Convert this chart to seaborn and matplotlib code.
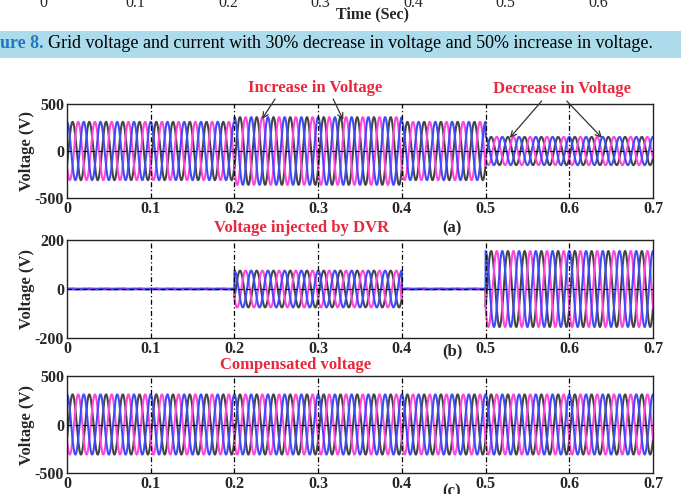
"""DVR simulation figure: grid, injected and compensated three-phase voltages."""

import matplotlib

matplotlib.use("Agg")
import matplotlib.pyplot as plt
import numpy as np
import pandas as pd
import seaborn as sns
from matplotlib.patches import Rectangle

# segment boundaries (s) and peak amplitude (V) in each segment
SEG_EDGES = [0.0, 0.2, 0.4, 0.5, 0.7]
GRID_AMP = [310, 360, 310, 150]
DVR_AMP = [2, 75, 2, 155]
LOAD_AMP = [310, 310, 310, 310]
FREQ_HZ = 50

PHASES = ["A", "B", "C"]
PHASE_SHIFT_DEG = [-120, 120, 0]
PHASE_COLORS = ["#444444", "#ff45da", "#3f4cf5"]

X_TICKS = [0, 0.1, 0.2, 0.3, 0.4, 0.5, 0.6, 0.7]
TOP_TICKS = ["0", "0.1", "0.2", "0.3", "0.4", "0.5", "0.6"]

SERIF = ["Liberation Serif", "DejaVu Serif"]
RED = "#e8283c"
W, H = 681, 494


def waveform(amps, n=7001):
    t = np.linspace(SEG_EDGES[0], SEG_EDGES[-1], n)
    idx = np.clip(np.searchsorted(SEG_EDGES, t, side="right") - 1, 0, len(amps) - 1)
    amp = np.asarray(amps, dtype=float)[idx]
    frames = []
    for name, shift in zip(PHASES, PHASE_SHIFT_DEG):
        v = amp * np.cos(2 * np.pi * FREQ_HZ * t + np.deg2rad(shift))
        frames.append(pd.DataFrame({"t": t, "v": v, "phase": name}))
    return pd.concat(frames, ignore_index=True)


def px_axes(fig, x0, y0, x1, y1):
    return fig.add_axes([x0 / W, 1 - y1 / H, (x1 - x0) / W, (y1 - y0) / H])


def style_axes(ax, ylim, yticks):
    ax.set_xlim(0, 0.7)
    ax.set_ylim(*ylim)
    ax.set_xticks(X_TICKS)
    ax.set_xticklabels(["0" if x == 0 else f"{x:g}" for x in X_TICKS])
    ax.set_yticks(yticks)
    ax.set_yticklabels([str(y) for y in yticks])
    ax.tick_params(direction="in", length=2, width=0.6, labelsize=11.5, pad=2)
    for lab in ax.get_xticklabels() + ax.get_yticklabels():
        lab.set_fontweight("bold")
    for x in X_TICKS[1:-1]:
        ax.axvline(x, color="black", lw=0.9, ls=(0, (4, 2, 1, 2)), zorder=5)
    ax.axhline(0, color="black", lw=0.8, ls=(0, (4, 3)), zorder=5)
    for s in ax.spines.values():
        s.set_color("#222222")
        s.set_linewidth(1.0)
    ax.set_xlabel("")
    ax.set_ylabel("Voltage (V)", fontsize=12, fontweight="bold", labelpad=0)


sns.set_style("white")
plt.rcParams["font.family"] = SERIF

fig = plt.figure(figsize=(W / 100, H / 100), dpi=100)

# remnants of the previous figure at the top of the page
for i, lab in enumerate(TOP_TICKS):
    fig.text((43 + i * 92.5) / W, 1 - 3 / H, lab, ha="center", va="center", fontsize=11.5)
fig.text(372 / W, 1 - 14 / H, "Time (Sec)", ha="center", va="center", fontsize=11.5,
         fontweight="bold")

# caption band
fig.patches.append(Rectangle((0, 1 - 58 / H), 1, 27 / H, transform=fig.transFigure,
                             facecolor="#acdcec", edgecolor="none", zorder=0))
fig.text(0, 1 - 44 / H, "ure 8.", ha="left", va="center", fontsize=13,
         color="#1f78c0", fontweight="bold")
fig.text(48 / W, 1 - 44 / H,
         "Grid voltage and current with 30% decrease in voltage and 50% increase in voltage.",
         ha="left", va="center", fontsize=13, color="black")

panels = [
    (GRID_AMP, (104, 198), (-500, 500), [-500, 0, 500]),
    (DVR_AMP, (240, 338), (-200, 200), [-200, 0, 200]),
    (LOAD_AMP, (376, 473), (-500, 500), [-500, 0, 500]),
]
axes = []
for amps, (y0, y1), ylim, yticks in panels:
    ax = px_axes(fig, 67, y0, 653, y1)
    sns.lineplot(data=waveform(amps), x="t", y="v", hue="phase", hue_order=PHASES,
                 palette=PHASE_COLORS, estimator=None, sort=False, lw=1.5,
                 legend=False, ax=ax)
    style_axes(ax, ylim, yticks)
    axes.append(ax)

ax_a, ax_b, ax_c = axes
arrow = dict(arrowstyle="->", color="#333333", lw=0.9, shrinkA=0, shrinkB=0)

ax_a.text(0.296, 670, "Increase in Voltage", ha="center", va="center", color=RED,
          fontsize=12, fontweight="bold", clip_on=False)
ax_a.annotate("", xy=(0.233, 340), xytext=(0.2485, 553), arrowprops=arrow,
              annotation_clip=False)
ax_a.annotate("", xy=(0.330, 330), xytext=(0.318, 553), arrowprops=arrow,
              annotation_clip=False)
ax_a.text(0.591, 660, "Decrease in Voltage", ha="center", va="center", color=RED,
          fontsize=12, fontweight="bold", clip_on=False)
ax_a.annotate("", xy=(0.529, 140), xytext=(0.567, 532), arrowprops=arrow,
              annotation_clip=False)
ax_a.annotate("", xy=(0.639, 140), xytext=(0.597, 532), arrowprops=arrow,
              annotation_clip=False)

fig.text(302 / W, 1 - 228 / H, "Voltage injected by DVR", ha="center", va="center",
         color=RED, fontsize=12, fontweight="bold")
fig.text(296 / W, 1 - 365 / H, "Compensated voltage", ha="center", va="center",
         color=RED, fontsize=12, fontweight="bold")

for lab, (x, y) in zip(["(a)", "(b)", "(c)"], [(452, 228), (452, 351), (452, 491)]):
    fig.text(x / W, 1 - y / H, lab, ha="center", va="center", fontsize=12,
             fontweight="bold")

fig.savefig("out.png", dpi=100)
plt.close(fig)
